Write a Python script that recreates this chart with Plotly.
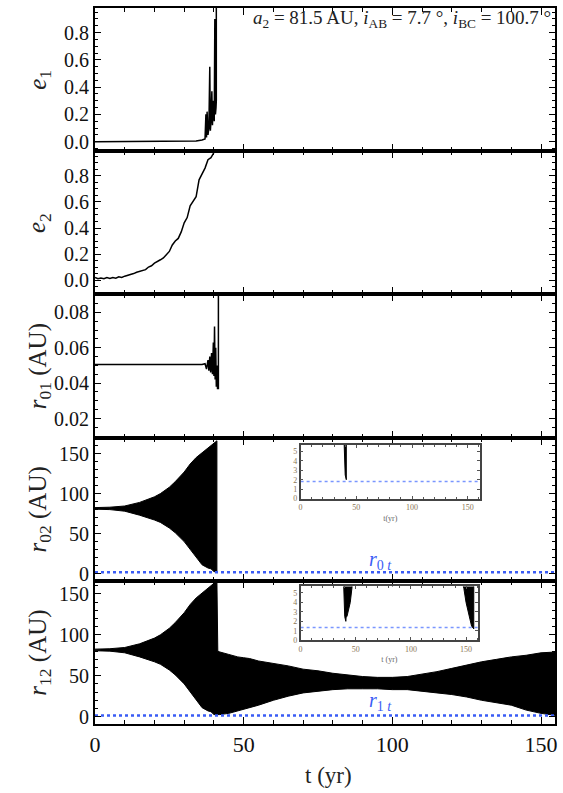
import plotly.graph_objects as go

# ---------------- data ----------------
t_e1 = [0, 15, 30, 34, 36, 37.0, 37.3, 37.5, 37.7, 38.0, 38.3, 38.6, 38.8, 39.0,
        39.3, 39.5, 39.8, 40.1, 40.3, 40.5, 40.7, 40.8, 40.8]
e1 = [0, 0, 0.002, 0.005, 0.012, 0.02, 0.2, 0.03, 0.22, 0.05, 0.1, 0.55, 0.08, 0.15,
      0.37, 0.12, 0.3, 0.15, 0.9, 0.2, 0.25, 0.3, 1.2]

t_e2 = [0, 1, 2, 3, 4, 5, 6, 7, 8, 9, 10, 11, 12, 13, 14, 15, 16, 17, 18, 19, 20,
        21, 22, 23, 24, 25, 26, 27, 28, 29, 30, 31, 32, 33, 34, 35, 36, 37, 38,
        39, 40, 41]
e2 = [0.02, 0.01, 0.015, 0.01, 0.02, 0.012, 0.02, 0.015, 0.025, 0.02, 0.03, 0.035,
      0.04, 0.05, 0.06, 0.067, 0.07, 0.08, 0.1, 0.11, 0.13, 0.14, 0.156, 0.17,
      0.195, 0.22, 0.27, 0.30, 0.32, 0.37, 0.44, 0.48, 0.57, 0.605, 0.64, 0.77,
      0.82, 0.86, 0.925, 0.94, 0.98, 1.05]

t_r01 = [0, 36, 37, 37.5, 38, 38.3, 38.6, 38.9, 39.2, 39.5, 39.8, 40.0, 40.2, 40.4,
         40.6, 40.8, 41.0, 41.2, 41.5, 41.5]
r01 = [0.0505, 0.0505, 0.051, 0.048, 0.053, 0.047, 0.055, 0.046, 0.057, 0.045, 0.063,
       0.044, 0.072, 0.042, 0.06, 0.038, 0.05, 0.037, 0.037, 0.1]

# envelopes of the fast oscillations of r02 / r12 (AU)
t_r02 = [0, 5, 10, 15, 20, 22, 25, 27, 30, 32, 34, 36, 38, 39, 40, 41]
r02_up = [82.5, 83, 84.5, 89, 96, 100, 108, 115, 127, 137, 145, 151, 156, 160, 162, 166]
r02_lo = [80.5, 80, 78, 73, 67, 64, 57, 51, 40, 31, 21, 11, 7, 6, 2.5, 2]

t_r12 = t_r02 + [41.3, 42, 45, 48, 50, 52, 55, 60, 65, 70, 75, 80, 85, 90, 95, 100,
                 105, 110, 115, 120, 125, 130, 135, 140, 145, 148, 150, 155, 157]
r12_up = r02_up + [80, 79, 76, 73, 72, 71, 68, 65, 62, 58, 56, 53, 51, 49, 48, 48,
                   49, 52, 55, 59, 63, 67, 70, 73, 75, 77, 78, 79, 77]
r12_lo = r02_lo + [2.5, 2.5, 4, 6.5, 8.5, 11, 14, 20, 25, 29, 31, 33, 34, 34, 34, 33,
                   33, 31, 29, 27, 24, 20, 17, 14, 8, 5.5, 4, 1.5, 1.2]

r0t = 1.8
r1t = 1.35
t_line = [0, 165]

x_ticks = [0, 50, 100, 150]
x_labels = ["0", "50", "100", "150"]

# ---------------- figure ----------------
fig = go.Figure()
SERIF = "Liberation Serif"
BLUE = "#3a5cf5"
LBLUE = "#7a96ff"


def band(t, up, lo, xa, ya):
    return go.Scatter(x=list(t) + list(t)[::-1], y=list(up) + list(lo)[::-1],
                      fill="toself", fillcolor="black", mode="lines",
                      line=dict(color="black", width=1), xaxis=xa, yaxis=ya,
                      hoverinfo="skip", showlegend=False)


fig.add_trace(go.Scatter(x=t_e1, y=e1, mode="lines", line=dict(color="black", width=1.5),
                         xaxis="x", yaxis="y", showlegend=False))
fig.add_trace(go.Scatter(x=t_e2, y=e2, mode="lines", line=dict(color="black", width=1.5),
                         xaxis="x2", yaxis="y2", showlegend=False))
fig.add_trace(go.Scatter(x=t_r01, y=r01, mode="lines", line=dict(color="black", width=1.5),
                         xaxis="x3", yaxis="y3", showlegend=False))
fig.add_trace(band(t_r02, r02_up, r02_lo, "x4", "y4"))
fig.add_trace(go.Scatter(x=t_line, y=[r0t, r0t], mode="lines",
                         line=dict(color=BLUE, width=2.5, dash="dot"),
                         xaxis="x4", yaxis="y4", showlegend=False))
fig.add_trace(band(t_r12, r12_up, r12_lo, "x5", "y5"))
fig.add_trace(go.Scatter(x=t_line, y=[r1t, r1t], mode="lines",
                         line=dict(color=BLUE, width=2.5, dash="dot"),
                         xaxis="x5", yaxis="y5", showlegend=False))
# insets
fig.add_trace(band(t_r02, r02_up, r02_lo, "x6", "y6"))
fig.add_trace(go.Scatter(x=t_line, y=[r0t, r0t], mode="lines",
                         line=dict(color=LBLUE, width=1.5, dash="dot"),
                         xaxis="x6", yaxis="y6", showlegend=False))
fig.add_trace(band(t_r12, r12_up, r12_lo, "x7", "y7"))
fig.add_trace(go.Scatter(x=t_line, y=[r1t, r1t], mode="lines",
                         line=dict(color=LBLUE, width=1.5, dash="dot"),
                         xaxis="x7", yaxis="y7", showlegend=False))

XR = [0, 154.7]
frame = dict(showline=True, linecolor="black", linewidth=2, mirror="allticks",
             ticks="inside", tickcolor="black", showgrid=False, zeroline=False)

doms = [[0.8, 1.0], [0.6, 0.8], [0.4, 0.6], [0.2, 0.4], [0.0, 0.2]]
yranges = [[-0.07, 0.98], [-0.11, 0.99], [0.0092, 0.0902], [-9, 170], [-9, 166]]
ydt = [0.2, 0.2, 0.02, 50, 50]
ymin = [0.05, 0.05, 0.005, 10, 10]
yfmt = [".1f", ".1f", ".2f", "d", "d"]
ytick0 = [0, 0, 0.02, 0, 0]

layout = dict(width=563, height=793, margin=dict(l=95, r=6, t=6, b=69),
              paper_bgcolor="white", plot_bgcolor="white", showlegend=False,
              font=dict(family=SERIF, color="#111"))

for i in range(5):
    n = "" if i == 0 else str(i + 1)
    layout["xaxis" + n] = dict(frame, domain=[0, 1], anchor="y" + n, range=XR,
                               tickvals=x_ticks, ticktext=x_labels, ticklen=7,
                               tickwidth=1.2,
                               minor=dict(dtick=10, tick0=0, ticklen=4, ticks="inside",
                                          tickcolor="black"),
                               showticklabels=(i == 4),
                               tickfont=dict(family=SERIF, size=22, color="#111"))
    layout["yaxis" + n] = dict(frame, domain=doms[i], anchor="x" + n, range=yranges[i],
                               tick0=ytick0[i], dtick=ydt[i], tickformat=yfmt[i],
                               ticklen=6, tickwidth=1.2,
                               minor=dict(dtick=ymin[i], ticklen=3, ticks="inside",
                                          tickcolor="black"),
                               tickfont=dict(family=SERIF, size=20, color="#111"))

inset_frame = dict(showline=True, linecolor="#444", linewidth=1.5, mirror="allticks",
                   ticks="inside", tickcolor="#555", ticklen=3, showgrid=False,
                   zeroline=False, tickfont=dict(family=SERIF, size=8, color="#8a7555"))
layout["xaxis6"] = dict(inset_frame, domain=[0.447, 0.837], anchor="y6", range=[0, 161],
                        tickvals=x_ticks, ticktext=x_labels,
                        minor=dict(dtick=10, ticklen=2, ticks="inside", tickcolor="#555"),
                        title=dict(text="t(yr)", font=dict(family=SERIF, size=8, color="#666"),
                                   standoff=4))
layout["yaxis6"] = dict(inset_frame, domain=[0.3148, 0.39], anchor="x6", range=[0, 5.7],
                        dtick=1)
layout["xaxis7"] = dict(inset_frame, domain=[0.447, 0.833], anchor="y7", range=[0, 161],
                        tickvals=x_ticks, ticktext=x_labels,
                        minor=dict(dtick=10, ticklen=2, ticks="inside", tickcolor="#555"),
                        title=dict(text="t (yr)", font=dict(family=SERIF, size=8, color="#666"),
                                   standoff=4))
layout["yaxis7"] = dict(inset_frame, domain=[0.117, 0.1922], anchor="x7", range=[0, 5.7],
                        dtick=1)

fig.update_layout(**layout)

ytitles = ["<i>e</i><sub>1</sub>", "<i>e</i><sub>2</sub>",
           "<i>r</i><sub>01</sub> (AU)", "<i>r</i><sub>02</sub> (AU)",
           "<i>r</i><sub>12</sub> (AU)"]
for i, txt in enumerate(ytitles):
    fig.add_annotation(text=txt, xref="paper", yref="paper", x=(39 - 95) / 462,
                       y=(doms[i][0] + doms[i][1]) / 2, textangle=-90, showarrow=False,
                       xanchor="center", yanchor="middle",
                       font=dict(family=SERIF, size=25, color="#222"))

fig.add_annotation(text="t (yr)", xref="paper", yref="paper", x=(330 - 95) / 462,
                   y=(724 - 776) / 718, showarrow=False, xanchor="center", yanchor="middle",
                   font=dict(family=SERIF, size=23, color="#222"))

fig.add_annotation(text="<i>a</i><sub>2</sub> = 81.5 AU, <i>i</i><sub>AB</sub> = 7.7 °, "
                        "<i>i</i><sub>BC</sub> = 100.7 °",
                   xref="paper", yref="paper", x=(555 - 95) / 462, y=(724 - 17) / 718,
                   showarrow=False, xanchor="right", yanchor="middle",
                   font=dict(family=SERIF, size=19, color="#222"))

fig.add_annotation(text="<i>r</i><sub>0 <i>t</i></sub>", xref="x4", yref="y4", x=96, y=17,
                   showarrow=False, font=dict(family=SERIF, size=20, color=BLUE))
fig.add_annotation(text="<i>r</i><sub>1 <i>t</i></sub>", xref="x5", yref="y5", x=96, y=19,
                   showarrow=False, font=dict(family=SERIF, size=20, color=BLUE))

fig.write_html("out.html", config={"displayModeBar": False},
               post_script="document.body.style.margin='0';"
                           "document.body.style.padding='0';")
